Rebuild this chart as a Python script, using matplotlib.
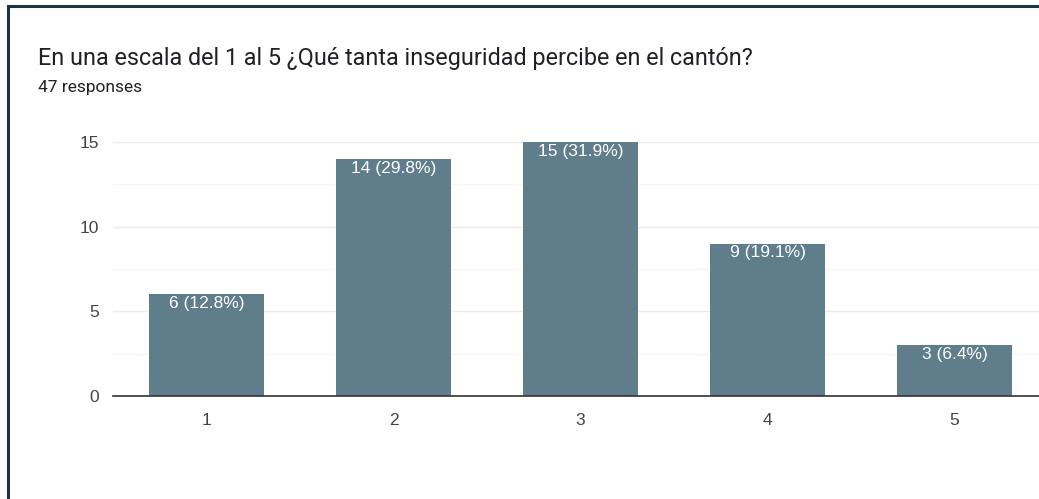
import matplotlib.pyplot as plt
from matplotlib.patches import Rectangle

# datos
categorias = ['1', '2', '3', '4', '5']
valores = [6, 14, 15, 9, 3]
etiquetas = ['6 (12.8%)', '14 (29.8%)', '15 (31.9%)', '9 (19.1%)', '3 (6.4%)']
titulo = 'En una escala del 1 al 5 ¿Qué tanta inseguridad percibe en el cantón?'
subtitulo = '47 responses'

fig = plt.figure(figsize=(10.39, 4.99), dpi=100)

# marco oscuro (recortado a la derecha y abajo)
fig.patches.append(Rectangle((8 / 1039, -0.1), 1.2, (499 - 6) / 499 + 0.1,
                             transform=fig.transFigure, fill=False,
                             edgecolor='#1b3442', linewidth=2.2))

fig.text(38 / 1039, 1 - 58 / 499, titulo, fontsize=16.8, family='Roboto',
         color='#202124', va='center')
fig.text(38 / 1039, 1 - 87 / 499, subtitulo, fontsize=12.5, family='Roboto',
         color='#202124', va='center')

ax = fig.add_axes([113 / 1039, 103 / 499, 935 / 1039, 254 / 499])
x = range(1, len(valores) + 1)
bars = ax.bar(x, valores, width=0.62, color='#607d8b', zorder=3)

for b, lab in zip(bars, etiquetas):
    ax.text(b.get_x() + b.get_width() / 2, b.get_height() - 0.1, lab,
            ha='center', va='top', color='white', fontsize=12.5,
            family='Liberation Sans', zorder=4)

ax.set_xlim(0.5, 5.5)
ax.set_ylim(0, 15)
ax.set_yticks([0, 5, 10, 15])
ax.set_yticks([2.5, 7.5, 12.5], minor=True)
ax.set_xticks(list(x))
ax.set_xticklabels(categorias)
ax.grid(axis='y', which='major', color='#ebebeb', linewidth=1, zorder=0)
ax.grid(axis='y', which='minor', color='#f5f5f5', linewidth=1, zorder=0)

for s in ['top', 'right', 'left']:
    ax.spines[s].set_visible(False)
ax.spines['bottom'].set_color('#333333')
ax.spines['bottom'].set_linewidth(1.2)
ax.spines['bottom'].set_zorder(5)

ax.tick_params(axis='both', which='both', length=0, labelsize=12.5,
               labelcolor='#444444')
ax.tick_params(axis='y', pad=10)
ax.tick_params(axis='x', pad=12)
for t in ax.get_xticklabels() + ax.get_yticklabels():
    t.set_family('Liberation Sans')

fig.savefig('out.png', dpi=100)
